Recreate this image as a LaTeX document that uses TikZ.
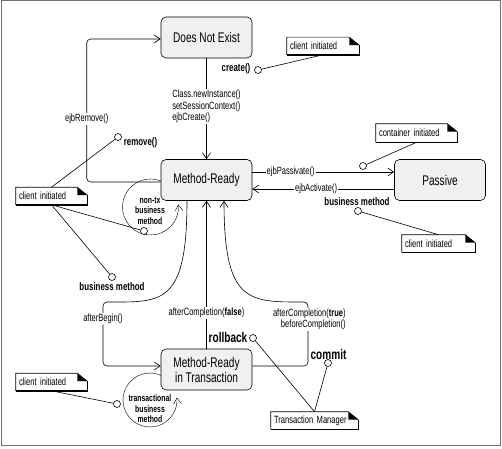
\documentclass[tikz,border=0pt]{standalone}
\usepackage{fontspec}
\setmainfont{Liberation Sans}[FakeStretch=0.72]
\usetikzlibrary{arrows.meta,backgrounds}

\tikzset{
  state/.style={draw, rounded corners=5pt, fill=gray!12, minimum width=91pt, minimum height=41pt, align=center, font=\fontsize{14}{15}\selectfont},
  lbl/.style={fill=white, inner sep=1pt, font=\fontsize{10.5}{11.5}\selectfont},
  ev/.style={inner sep=0pt, font=\fontsize{11}{12}\selectfont\bfseries},
  bigev/.style={inner sep=0pt, font=\fontsize{14}{16}\selectfont\bfseries},
  looptxt/.style={align=center, inner sep=0pt, font=\fontsize{9.5}{10.5}\selectfont\bfseries},
  note/.style={text width=#1, align=left, inner xsep=3pt, inner ysep=0pt, minimum height=17pt, fill=white, font=\fontsize{10.5}{12}\selectfont},
  marker/.style={circle, draw, fill=white, inner sep=0pt, minimum size=7pt}
}

\begin{document}
\begin{tikzpicture}[x=1pt, y=1pt, semithick, >={Straight Barb[length=6pt,width=8pt]}]
\useasboundingbox (0,0) rectangle (502,448);

% Frame
\draw[black!55] (1,3) rectangle (500.5,447.5);

% States
\node[state] (dne) at (206.5,410.5) {Does Not Exist};
\node[state] (mr) at (206.5,268) {Method-Ready};
\node[state] (pas) at (440,268) {Passive};
\node[state] (mrt) at (206.5,78.5) {Method-Ready\\in Transaction};

% Transitions
\draw[->] (dne) -- (mr) node[lbl, pos=0.48, align=left] {Class.newInstance()\\setSessionContext()\\ejbCreate()};
\draw[->, rounded corners=4pt] ([yshift=-2pt]mr.west) -- ++(-74,0) |- ([yshift=-1.5pt]dne.west) node[lbl, pos=0.22] {ejbRemove()};
\draw[->] ([yshift=8pt]mr.east) -- ([yshift=8pt]pas.west) node[lbl, pos=0.27] {ejbPassivate()};
\draw[->] ([yshift=-9pt]pas.west) -- ([yshift=-9pt]mr.east) node[lbl, pos=0.55] {ejbActivate()};
\draw[->, rounded corners=4pt] ([xshift=-19.5pt]mr.south) .. controls (187,150) and (165,146) .. (115,146) -- (103,146) |- ([yshift=3.5pt]mrt.west) node[lbl, pos=0.13] {afterBegin()};
\draw[->] (mrt) -- (mr) node[lbl, pos=0.24] {afterCompletion(\textbf{false})};
\draw[->, rounded corners=4pt] ([yshift=3.5pt]mrt.east) -| (308,146) -- (300,146) .. controls (246,146) and (224,150) .. ([xshift=17.5pt]mr.south);
\node[lbl, align=right, anchor=east] (ltrue) at (347,128.5) {afterCompletion(\textbf{true})\\beforeCompletion()};

% Self loops
\begin{scope}[on background layer]
\draw[->] (150.5,241) ++(65:28) arc[start angle=65, end angle=365, radius=28];
\draw[->] (150,48) ++(60:27) arc[start angle=60, end angle=365, radius=27];
\end{scope}
\node[looptxt] (tnontx) at (150,237.5) {non-tx\\business\\method};
\node[looptxt] (ttrans) at (150,39) {transactional\\business\\method};

% Events
\node[ev] (tcreate) at (236,379) {create()};
\node[marker] (mcreate) at (258,378) {};
\node[ev] (tremove) at (140.5,305) {remove()};
\node[marker] (mremove) at (118,311) {};
\node[marker] (mnontx) at (144,217) {};
\node[ev] (tbizL) at (112,161) {business method};
\node[marker] (mbizL) at (112,171) {};
\node[marker] (mcont) at (363,282) {};
\node[ev] (tbizR) at (357,246) {business method};
\node[marker] (mbizR) at (358,237) {};
\node[bigev] (trollback) at (228,111) {rollback};
\node[marker] (mrollback) at (253,110) {};
\node[bigev] (tcommit) at (328.5,94) {commit};
\node[marker] (mcommit) at (328,85) {};
\node[marker] (mtrans) at (117,44) {};

% Notes
\node[note=66pt] (clientA) at (323,402) {client initiated};
\node[note=65pt] (clientB) at (51.5,252) {client initiated};
\node[note=75pt, minimum height=18pt] (contA) at (416.5,315) {container initiated};
\node[note=67pt] (clientC) at (438.5,204.5) {client initiated};
\node[note=65pt] (clientD) at (51.5,66) {client initiated};
\node[note=81pt] (tm) at (314.5,27.5) {Transaction Manager};
\foreach \n in {clientA,clientB,contA,clientC,clientD,tm} {
  \draw (\n.south west) -- (\n.north west) -- ([xshift=-10pt]\n.north east) -- ([yshift=-8pt]\n.north east);
  \fill ([xshift=-10pt]\n.north east) |- ([yshift=-8pt]\n.north east) -- cycle;
  \draw[line width=1.5pt] ([yshift=-8pt]\n.north east) -- (\n.south east) -- (\n.south west);
}

% Note links
\draw (mcreate) -- (clientA.south);
\draw (mremove) -- (clientB.north);
\draw (clientB.south) -- (mnontx);
\draw (clientB.south) -- (mbizL);
\draw (mcont) -- (contA.south);
\draw (mbizR) -- (clientC.north);
\draw (mrollback) -- (tm.north);
\draw (mcommit) -- (tm.north);
\draw (clientD.south) -- (mtrans);

\end{tikzpicture}
\end{document}
